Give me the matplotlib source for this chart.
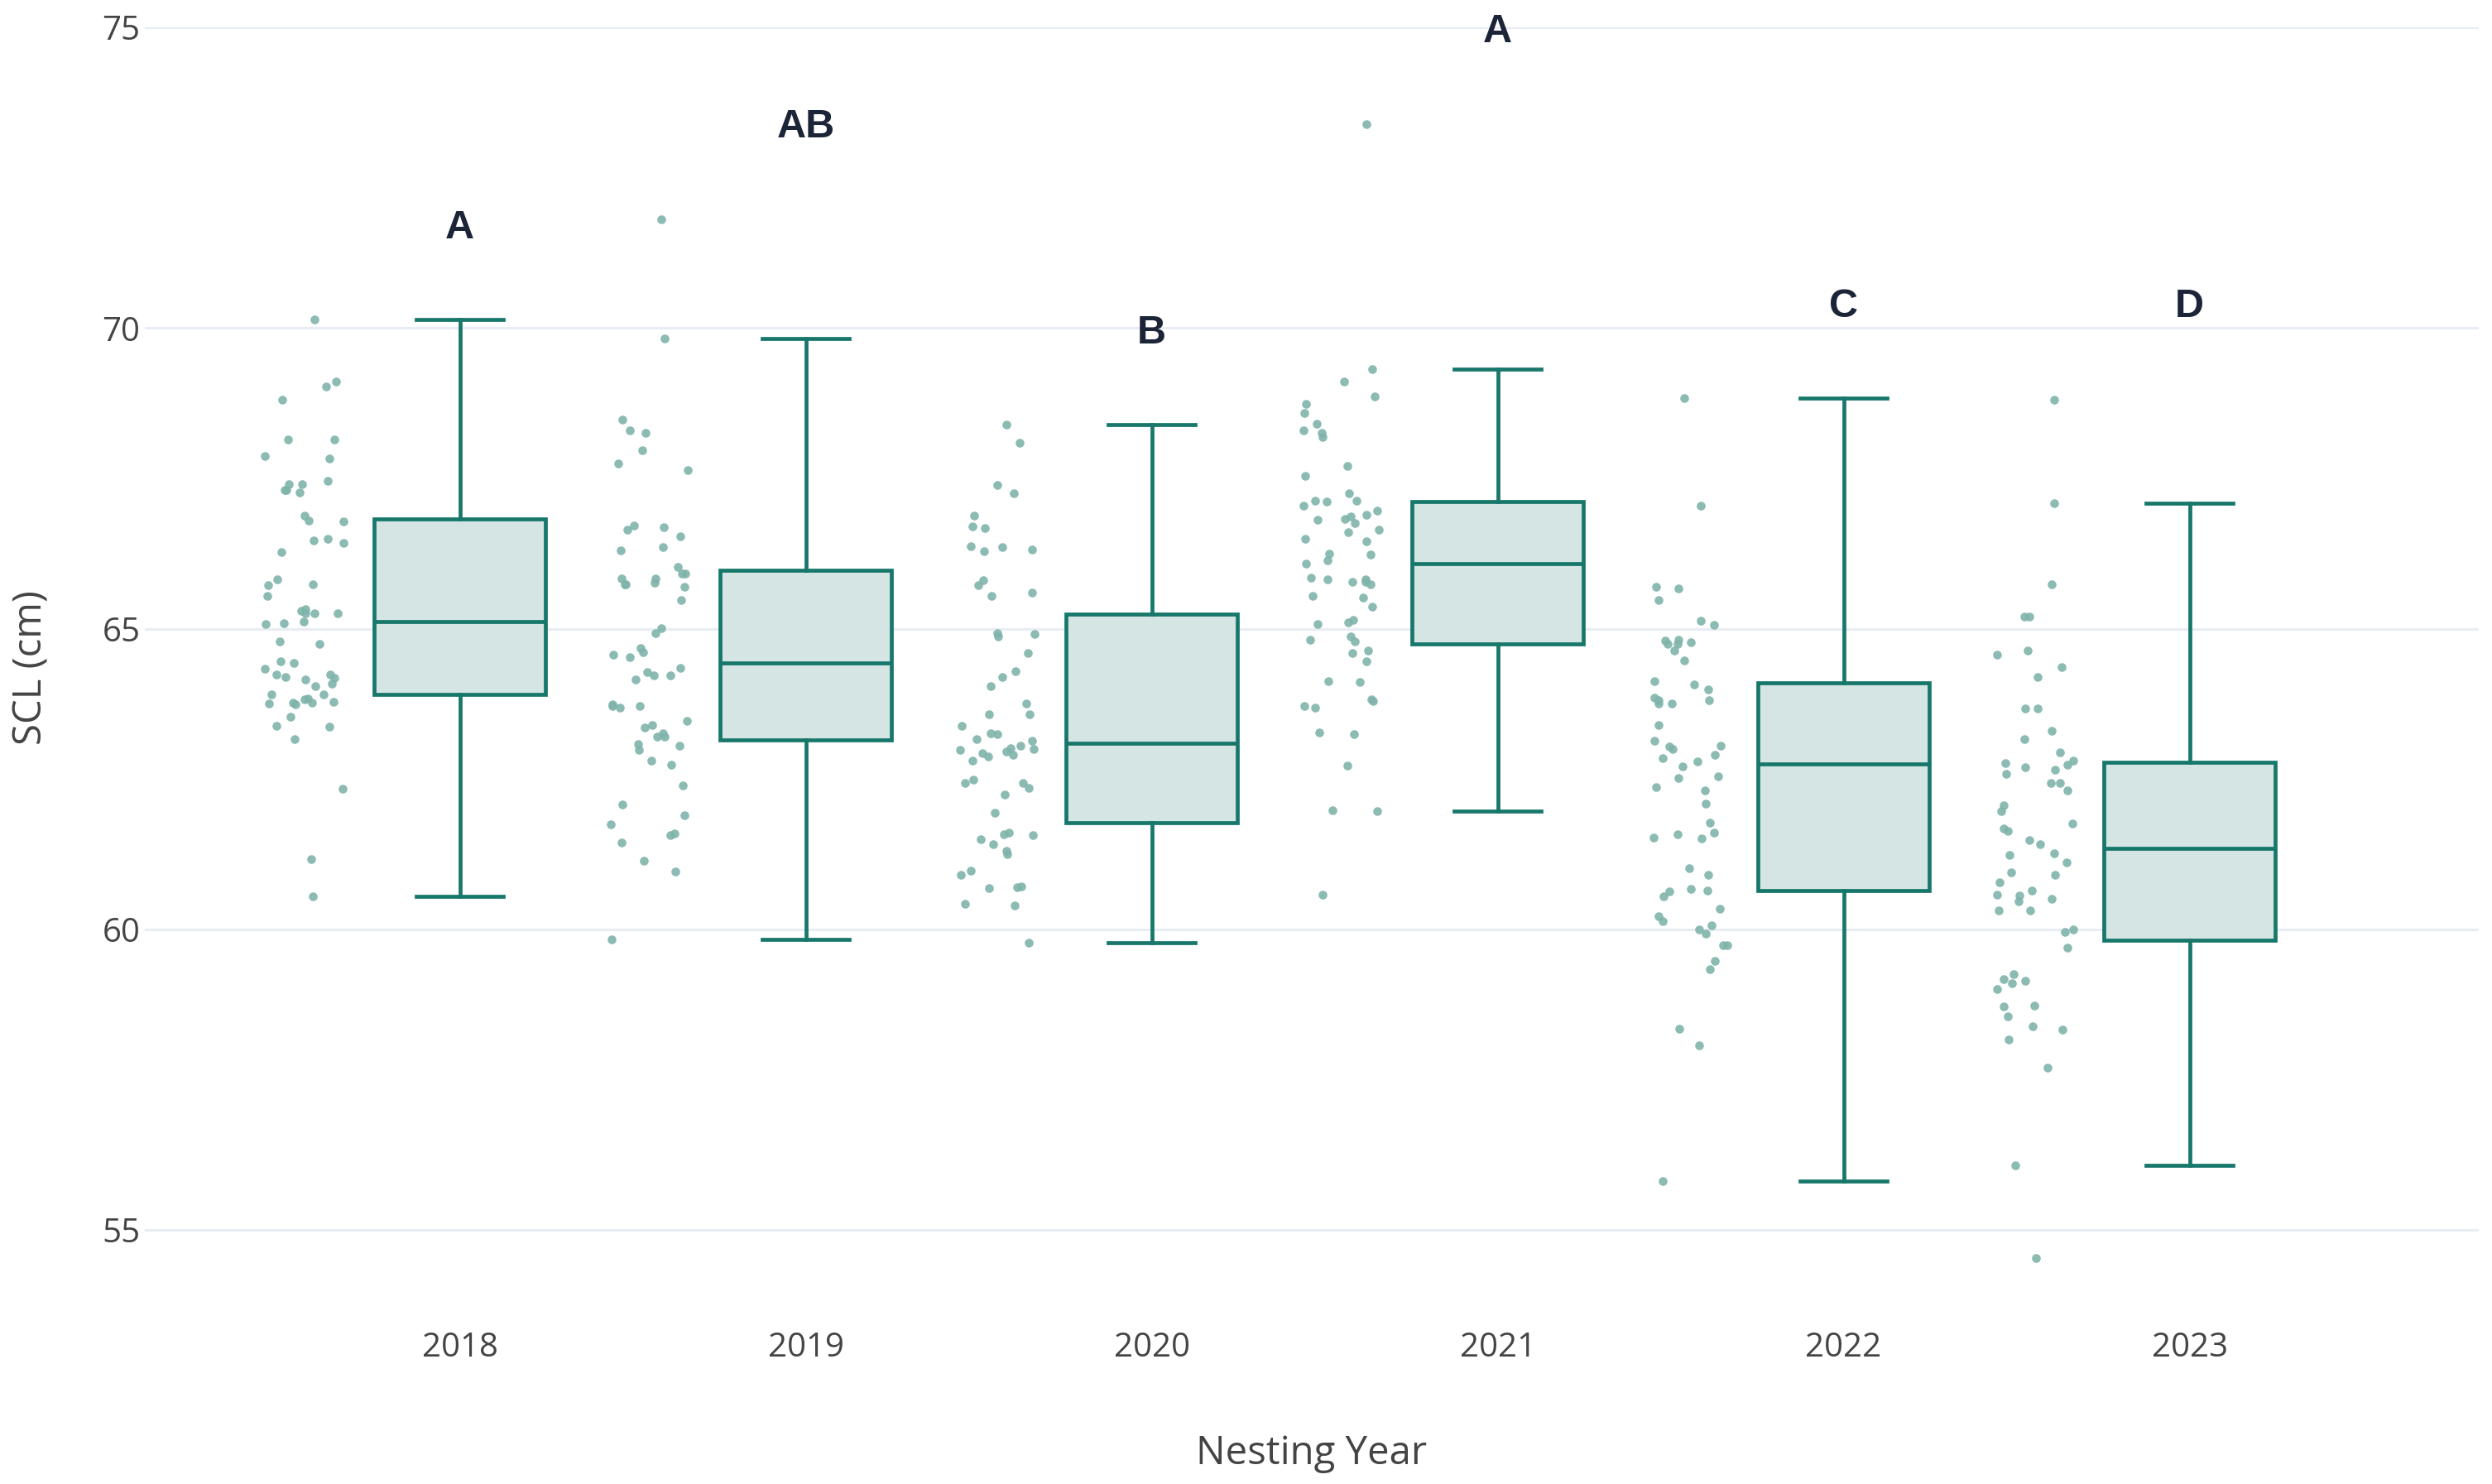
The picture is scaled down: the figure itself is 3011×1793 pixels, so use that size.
import numpy as np
import matplotlib.pyplot as plt

years = ['2018', '2019', '2020', '2021', '2022', '2023']
letters = ['A', 'AB', 'B', 'A', 'C', 'D']
letter_y = [71.66, 73.34, 69.91, 74.92, 70.35, 70.35]

scl_2018 = [70.14, 69.11, 69.02, 68.80, 68.15, 68.15, 67.87, 67.83, 67.46, 67.40,
            67.40, 67.31, 67.30, 67.26, 66.88, 66.80, 66.78, 66.49, 66.46, 66.42,
            66.28, 65.82, 65.73, 65.72, 65.54, 65.32, 65.30, 65.25, 65.25, 65.25,
            65.12, 65.09, 65.07, 64.78, 64.75, 64.46, 64.43, 64.33, 64.24, 64.24,
            64.19, 64.18, 64.15, 64.08, 64.05, 63.90, 63.90, 63.84, 63.83, 63.78,
            63.77, 63.77, 63.76, 63.74, 63.53, 63.38, 63.37, 63.16, 62.34, 61.16,
            60.55]
scl_2019 = [71.81, 69.83, 68.48, 68.25, 68.29, 67.97, 67.75, 67.63, 66.64, 66.68,
            66.71, 66.54, 66.36, 66.30, 66.03, 65.91, 65.91, 65.83, 65.83, 65.73,
            65.69, 65.77, 65.73, 65.47, 65.01, 64.92, 64.67, 64.61, 64.52, 64.57,
            64.34, 64.28, 64.22, 64.15, 64.22, 63.71, 63.71, 63.74, 63.68, 63.47,
            63.26, 63.36, 63.39, 63.05, 63.08, 63.21, 63.21, 62.99, 62.80, 62.73,
            62.39, 62.07, 61.89, 61.75, 61.56, 61.59, 61.44, 61.14, 60.96, 59.83]
scl_2020 = [68.39, 68.09, 67.39, 67.25, 66.88, 66.70, 66.67, 66.37, 66.29, 66.31,
            66.36, 65.80, 65.72, 65.60, 65.55, 64.91, 64.93, 64.87, 64.59, 64.29,
            64.20, 64.04, 63.76, 63.57, 63.58, 63.38, 63.26, 63.25, 63.13, 63.16,
            63.05, 63.01, 62.90, 62.95, 63.00, 62.93, 62.88, 62.80, 62.98, 62.49,
            62.35, 62.43, 62.43, 62.24, 61.94, 61.58, 61.61, 61.50, 61.56, 61.41,
            61.31, 61.25, 60.98, 60.90, 60.68, 60.70, 60.71, 60.39, 60.42, 59.77]
scl_2021 = [73.39, 69.31, 69.11, 68.86, 68.74, 68.58, 68.29, 68.18, 68.26, 68.41,
            67.70, 67.54, 67.25, 67.12, 67.12, 67.05, 67.11, 66.96, 66.83, 66.89,
            66.75, 66.87, 66.81, 66.60, 66.49, 66.45, 66.64, 66.23, 66.08, 66.24,
            66.14, 65.84, 65.78, 65.82, 65.82, 65.73, 65.78, 65.55, 65.51, 65.36,
            65.08, 65.10, 65.14, 64.87, 64.81, 64.78, 64.60, 64.63, 64.45, 64.13,
            64.11, 63.83, 63.80, 63.69, 63.72, 63.24, 63.27, 62.72, 61.96, 61.98,
            60.57]
scl_2022 = [68.84, 67.05, 65.69, 65.67, 65.47, 65.13, 65.06, 64.81, 64.75, 64.77,
            64.80, 64.75, 64.63, 64.47, 64.13, 63.99, 64.07, 63.76, 63.85, 63.81,
            63.81, 63.75, 63.40, 63.13, 63.05, 63.04, 63.00, 62.90, 62.79, 62.84,
            62.71, 62.54, 62.51, 62.31, 62.37, 62.09, 61.77, 61.61, 61.51, 61.58,
            61.53, 61.02, 60.91, 60.55, 60.63, 60.67, 60.65, 60.34, 60.22, 60.14,
            60.07, 60.00, 59.93, 59.73, 59.73, 59.47, 59.33, 58.34, 58.07, 55.81]
scl_2023 = [68.81, 67.08, 65.73, 65.20, 65.20, 64.63, 64.56, 64.36, 64.20, 63.67,
            63.67, 63.30, 63.16, 62.94, 62.74, 62.69, 62.76, 62.66, 62.80, 62.58,
            62.43, 62.43, 62.31, 62.06, 61.97, 61.76, 61.67, 61.63, 61.41, 61.49,
            61.27, 61.23, 61.11, 60.94, 60.90, 60.78, 60.64, 60.58, 60.56, 60.47,
            60.50, 60.31, 60.31, 59.99, 59.95, 59.69, 59.25, 59.15, 59.10, 59.17,
            59.00, 58.73, 58.72, 58.55, 58.33, 58.39, 58.16, 57.70, 56.07, 54.53]

data = [scl_2018, scl_2019, scl_2020, scl_2021, scl_2022, scl_2023]

line_c = '#17776b'
fill_c = '#d4e5e3'
dot_c = '#7fb4aa'
grid_c = '#e8edf5'


def box_stats(vals):
    # quartiles the way plotly does them (hazen), whiskers at 1.5 IQR
    v = np.asarray(vals)
    q1, med, q3 = np.percentile(v, [25, 50, 75], method='hazen')
    iqr = q3 - q1
    lo = v[v >= q1 - 1.5 * iqr].min()
    hi = v[v <= q3 + 1.5 * iqr].max()
    return dict(med=med, q1=q1, q3=q3, whislo=lo, whishi=hi, fliers=[])


fig = plt.figure(figsize=(30.11, 17.93), dpi=100)
ax = fig.add_axes([175 / 3011, 1 - 1595 / 1793, 2820 / 3011, 1562 / 1793])

pos = np.arange(len(years))
lw = 3.4
ax.bxp([box_stats(d) for d in data], positions=pos, widths=0.495, capwidths=0.25,
       showfliers=False, patch_artist=True,
       boxprops=dict(facecolor=fill_c, edgecolor=line_c, linewidth=lw),
       medianprops=dict(color=line_c, linewidth=lw),
       whiskerprops=dict(color=line_c, linewidth=lw),
       capprops=dict(color=line_c, linewidth=lw), zorder=3)

# jittered points to the left of each box
rng = np.random.default_rng(7)
for i, vals in enumerate(data):
    xs = i - 0.45 + rng.uniform(-0.115, 0.115, len(vals))
    ax.scatter(xs, vals, s=58, color=dot_c, alpha=0.9, linewidths=0, zorder=4)

for i, (t, y) in enumerate(zip(letters, letter_y)):
    ax.text(i, y, t, ha='center', va='center', fontsize=35, fontweight='bold',
            color='#1c2438', family='Liberation Sans', zorder=5, clip_on=False)

ax.set_xlim(-0.9108, 5.836)
ax.set_ylim(53.5, 75)
ax.set_yticks([55, 60, 65, 70, 75])
ax.set_xticks(pos)
ax.set_xticklabels(years)
ax.grid(axis='y', color=grid_c, linewidth=2.2, zorder=0)
ax.set_axisbelow(True)
for s in ax.spines.values():
    s.set_visible(False)
ax.tick_params(axis='both', length=0, labelsize=29, labelcolor='#444444')
ax.tick_params(axis='x', pad=10)
ax.tick_params(axis='y', pad=4)
for lab in ax.get_xticklabels() + ax.get_yticklabels():
    lab.set_family('Open Sans')

ax.set_xlabel('Nesting Year', fontsize=34, color='#444444', family='Open Sans')
ax.set_ylabel('SCL (cm)', fontsize=34, color='#444444', family='Open Sans')
ax.xaxis.set_label_coords(0.5, -0.1031)
ax.yaxis.set_label_coords(-0.0486, 0.505)
ax.xaxis.label.set_va('center')
ax.yaxis.label.set_va('center')

fig.savefig('out.png', dpi=100, facecolor='white')
